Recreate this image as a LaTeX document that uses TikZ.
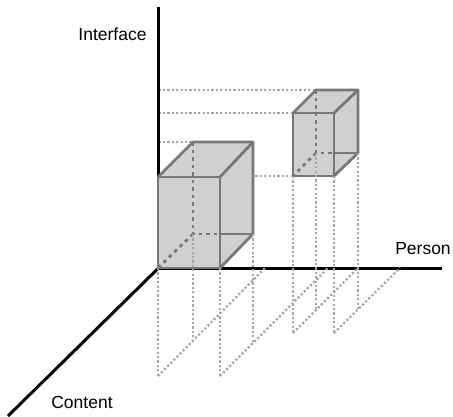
\documentclass[tikz,border=0pt]{standalone}
\usepackage{fontspec}
\setmainfont{Liberation Sans}
\definecolor{edgegray}{HTML}{777777}
\definecolor{facegray}{HTML}{D0D0D0}
\definecolor{projgray}{HTML}{A6A6A6}
\begin{document}
\begin{tikzpicture}[x=1pt,y=-1pt,
  axis/.style={line width=3pt,black},
  edge/.style={line width=2.8pt,draw=edgegray,line join=round,line cap=round},
  hidden/.style={line width=2.8pt,draw=edgegray,dash pattern=on 3.5pt off 4pt},
  proj/.style={line width=2.2pt,draw=projgray,line cap=butt,dash pattern=on 2.2pt off 2.2pt},
  lbl/.style={font=\fontsize{17.5}{20}\selectfont,inner sep=0pt,anchor=base}]
\useasboundingbox (0,0) rectangle (453,416);

% axes
\coordinate (O) at (158.5,268);
\coordinate (ytop) at (158.5,7);
\coordinate (xend) at (442,268);
\coordinate (zend) at (8,416);

% large cuboid corners
\coordinate (bFBL) at (158,268);
\coordinate (bFBR) at (220,268);
\coordinate (bFTL) at (158,177);
\coordinate (bFTR) at (220,177);
\coordinate (bBBL) at (193,234);
\coordinate (bBBR) at (253,234);
\coordinate (bBTL) at (193,142);
\coordinate (bBTR) at (253,142);

% small cuboid corners
\coordinate (sFBL) at (293,176);
\coordinate (sFBR) at (334,176);
\coordinate (sFTL) at (293,113);
\coordinate (sFTR) at (334,113);
\coordinate (sBBL) at (316,153);
\coordinate (sBBR) at (358,153);
\coordinate (sBTL) at (316,90);
\coordinate (sBTR) at (358,90);

% feet of the drop lines and ends of the floor lines
\coordinate (bFBLd) at (158,376);
\coordinate (bFBRd) at (220,376);
\coordinate (bBBLd) at (193,342);
\coordinate (bBBRd) at (253,342);
\coordinate (bEndA) at (265,268);
\coordinate (bEndB) at (328,268);
\coordinate (sFBLd) at (293,333);
\coordinate (sFBRd) at (334,333);
\coordinate (sBBLd) at (316,310);
\coordinate (sBBRd) at (358,310);
\coordinate (sEndA) at (358,268);
\coordinate (sEndB) at (400,268);

% projections onto the interface axis
\draw[proj] (O |- sBTL) -- (sBTL);
\draw[proj] (O |- sFTL) -- (sFTL);
\draw[proj] (O |- bBTL) -- (bBTL);
\draw[proj] (O |- sFBL) -- (sFBL);

% axes
\draw[axis] (O) -- (ytop);
\draw[axis] (O) -- (xend);
\draw[axis] (O) -- (zend);

% large cuboid
\fill[facegray] (bFBL) -- (bFTL) -- (bBTL) -- (bBTR) -- (bBBR) -- (bFBR) -- cycle;
\draw[hidden] (bBTL) -- (bBBL) -- (bFBR |- bBBL);
\draw[hidden] (bBBL) -- (bFBL);
\draw[edge] (bFBR |- bBBL) -- (bBBR);
\draw[edge] (bFBL) rectangle (bFTR);
\draw[edge] (bFTL) -- (bBTL) -- (bBTR) -- (bBBR) -- (bFBR);
\draw[edge] (bFTR) -- (bBTR);

% small cuboid
\fill[facegray] (sFBL) -- (sFTL) -- (sBTL) -- (sBTR) -- (sBBR) -- (sFBR) -- cycle;
\draw[hidden] (sBTL) -- (sBBL) -- (sFBR |- sBBL);
\draw[hidden] (sBBL) -- (sFBL);
\draw[edge] (sFBR |- sBBL) -- (sBBR);
\draw[edge] (sFBL) rectangle (sFTR);
\draw[edge] (sFTL) -- (sBTL) -- (sBTR) -- (sBBR) -- (sFBR);
\draw[edge] (sFTR) -- (sBTR);

% drop lines below the cuboids
\draw[proj] (bFBL) -- (bFBLd);
\draw[proj] (bFBR) -- (bFBRd);
\draw[proj] (bBBL) -- (bBBLd);
\draw[proj] (bBBR) -- (bBBRd);
\draw[proj] (sFBL) -- (sFBLd);
\draw[proj] (sFBR) -- (sFBRd);
\draw[proj] (sBBL) -- (sBBLd);
\draw[proj] (sBBR) -- (sBBRd);

% floor lines
\draw[proj] (bFBLd) -- (bEndA);
\draw[proj] (bFBRd) -- (bEndB);
\draw[proj] (sFBLd) -- (sEndA);
\draw[proj] (sFBRd) -- (sEndB);

% axis labels
\node[lbl] (ilabel) at (112.5,40.5) {Interface};
\node[lbl] (plabel) at (423,254.5) {Person};
\node[lbl] (clabel) at (82,408.5) {Content};
\end{tikzpicture}
\end{document}
